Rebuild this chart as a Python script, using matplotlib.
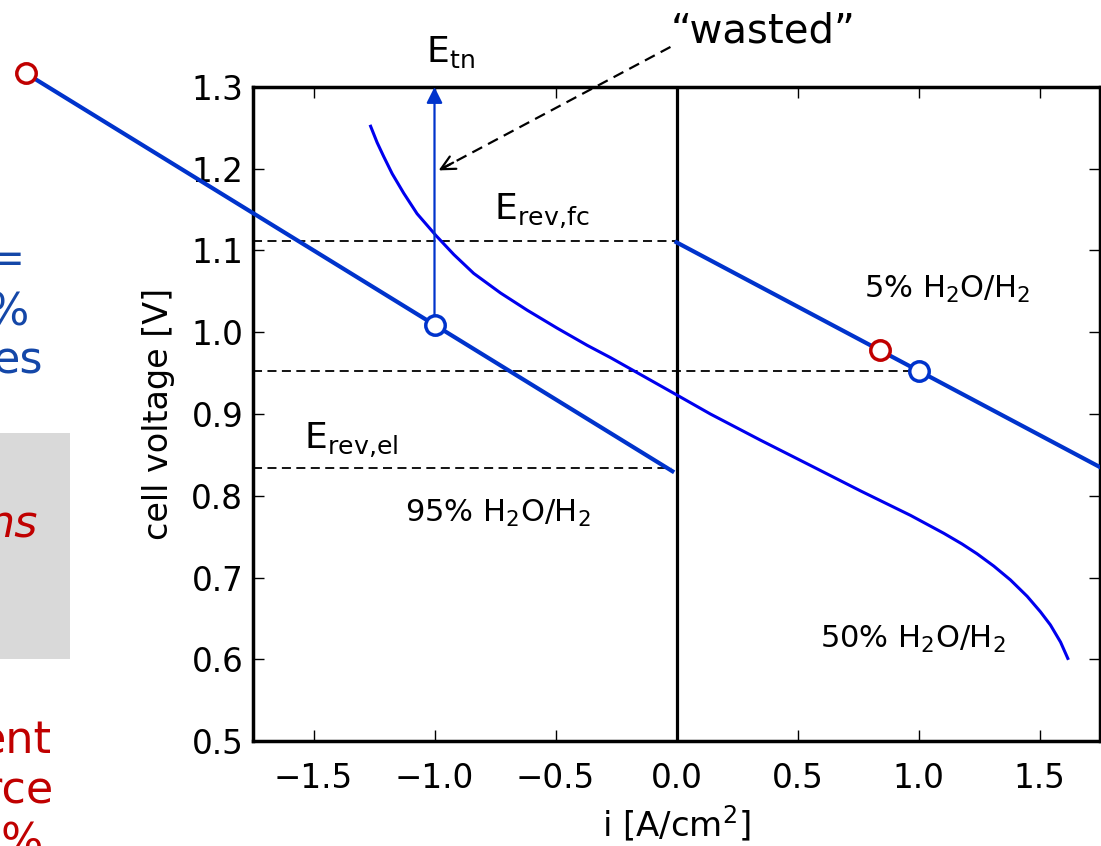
import matplotlib
matplotlib.use('Agg')
import matplotlib.pyplot as plt
from matplotlib.patches import Rectangle

W, H = 1101, 846

# ---------------- data ----------------
i_5pct = [0.0, 1.75]
v_5pct = [1.110, 0.835]

i_95pct = [-2.69, -0.017]
v_95pct = [1.317, 0.830]

i_50pct = [-1.264, -1.237, -1.210, -1.175, -1.127, -1.072, -0.993, -0.920,
           -0.838, -0.727, -0.617, -0.493, -0.369, -0.273, 0.003, 0.140,
           0.347, 0.554, 0.760, 0.967, 1.105, 1.180, 1.242, 1.311, 1.380,
           1.449, 1.504, 1.545, 1.587, 1.617]
v_50pct = [1.252, 1.232, 1.215, 1.194, 1.170, 1.145, 1.118, 1.095,
           1.072, 1.048, 1.027, 1.005, 0.984, 0.969, 0.923, 0.900,
           0.868, 0.837, 0.806, 0.776, 0.754, 0.741, 0.729, 0.714, 0.697,
           0.677, 0.658, 0.642, 0.621, 0.601]

E_rev_fc = 1.112
E_rev_el = 0.834
V_operating = 0.953
E_tn = 1.30

op_blue_i = [-1.0, 1.0]
op_blue_v = [1.009, 0.953]
op_red_i = [-2.69, 0.839]
op_red_v = [1.317, 0.978]

x_ticks = [-1.5, -1.0, -0.5, 0.0, 0.5, 1.0, 1.5]
y_ticks = [0.5, 0.6, 0.7, 0.8, 0.9, 1.0, 1.1, 1.2, 1.3]

LINE_BLUE = '#0033cc'
CURVE_BLUE = '#0000ee'
RED = '#c00000'
TEXT_BLUE = '#1447a8'

# ---------------- figure ----------------
fig = plt.figure(figsize=(W / 100, H / 100), dpi=100)
ax = fig.add_axes([253 / W, 1 - 741 / H, (1100 - 253) / W, (741 - 87) / H])
ax.set_xlim(-1.75, 1.75)
ax.set_ylim(0.5, 1.3)


def fx(x):
    return x / W


def fy(y):
    return 1 - y / H


# slide fragments on the left (cut off by the crop)
fig.patches.append(Rectangle((fx(-20), fy(659)), fx(90), 226 / H,
                             transform=fig.transFigure, facecolor='#d9d9d9',
                             edgecolor='none', zorder=0))
for txt, x, y in [('=', 25, 273), ('%', 29, 325), ('es', 43, 373)]:
    fig.text(fx(x), fy(y), txt, color=TEXT_BLUE, fontsize=32, ha='right', va='baseline')
fig.text(fx(38), fy(537), 'ns', color=RED, fontsize=32, style='italic', ha='right', va='baseline')
for txt, x, y in [('ent', 52, 753), ('rce', 53, 803), ('%', 43, 855)]:
    fig.text(fx(x), fy(y), txt, color=RED, fontsize=32, ha='right', va='baseline')

# dashed reference lines
dash_kw = dict(color='k', lw=1.3, dashes=(5, 3), zorder=2)
ax.plot([-1.75, 0.0], [E_rev_fc, E_rev_fc], **dash_kw)
ax.plot([-1.75, op_blue_i[1]], [V_operating, V_operating], **dash_kw)
ax.plot([-1.75, -0.017], [E_rev_el, E_rev_el], **dash_kw)

# zero current line
ax.axvline(0.0, color='k', lw=2.3, zorder=2)

# curves
ax.plot(i_5pct, v_5pct, color=LINE_BLUE, lw=3, zorder=3)
ax.plot(i_95pct, v_95pct, color=LINE_BLUE, lw=3, zorder=3, clip_on=False)
ax.plot(i_50pct, v_50pct, color=CURVE_BLUE, lw=2.2, zorder=3,
        solid_joinstyle='round')

# E_tn arrow
ax.annotate('', xy=(op_blue_i[0], E_tn), xytext=(op_blue_i[0], op_blue_v[0]),
            arrowprops=dict(arrowstyle='-|>', color=LINE_BLUE, lw=1.6,
                            mutation_scale=24, shrinkA=0, shrinkB=0),
            annotation_clip=False, zorder=4)

# operating points
ax.plot(op_blue_i, op_blue_v, 'o', ms=14, mfc='white', mec=LINE_BLUE, mew=2.5,
        zorder=5, clip_on=False)
ax.plot(op_red_i, op_red_v, 'o', ms=14, mfc='white', mec=RED, mew=2.5,
        zorder=5, clip_on=False)

# "wasted" annotation
w_start = (-0.025, 1.349)
w_tip = (-0.983, 1.198)
ax.plot([w_start[0], w_tip[0]], [w_start[1], w_tip[1]], color='k', lw=1.6,
        dashes=(5, 3), clip_on=False, zorder=4)
ax.annotate('', xy=w_tip, xytext=(w_tip[0] + 0.06, w_tip[1] + 0.0095),
            arrowprops=dict(arrowstyle='->', color='k', lw=1.6,
                            mutation_scale=25, shrinkA=0, shrinkB=0),
            annotation_clip=False, zorder=4)
ax.text(-0.025, 1.355, '\u201cwasted\u201d', fontsize=29, ha='left', va='baseline',
        clip_on=False)

# labels in axes
ax.text(-0.756, 1.137, r'$\mathregular{E_{rev{,}fc}}$', fontsize=26, ha='left', va='baseline')
ax.text(-1.541, 0.857, r'$\mathregular{E_{rev{,}el}}$', fontsize=26, ha='left', va='baseline')
ax.text(-1.037, 1.331, r'$\mathregular{E_{tn}}$', fontsize=26, ha='left', va='baseline',
        clip_on=False)
ax.text(-1.120, 0.768, r'95% H$_2$O/H$_2$', fontsize=22, ha='left', va='baseline')
ax.text(0.773, 1.042, r'5% H$_2$O/H$_2$', fontsize=22, ha='left', va='baseline')
ax.text(0.595, 0.614, r'50% H$_2$O/H$_2$', fontsize=22, ha='left', va='baseline')

# axes styling
ax.set_xticks(x_ticks)
ax.set_yticks(y_ticks)
for s in ax.spines.values():
    s.set_linewidth(2.5)
ax.tick_params(which='both', direction='in', top=True, right=True, length=8,
               width=1, labelsize=23.5)
ax.tick_params(axis='x', pad=15)
ax.tick_params(axis='y', pad=7)
ax.set_xlabel(r'i [A/cm$^2$]', fontsize=24.5, labelpad=6)
ax.set_ylabel('cell voltage [V]', fontsize=24, labelpad=12)

fig.savefig('out.png', dpi=100)
